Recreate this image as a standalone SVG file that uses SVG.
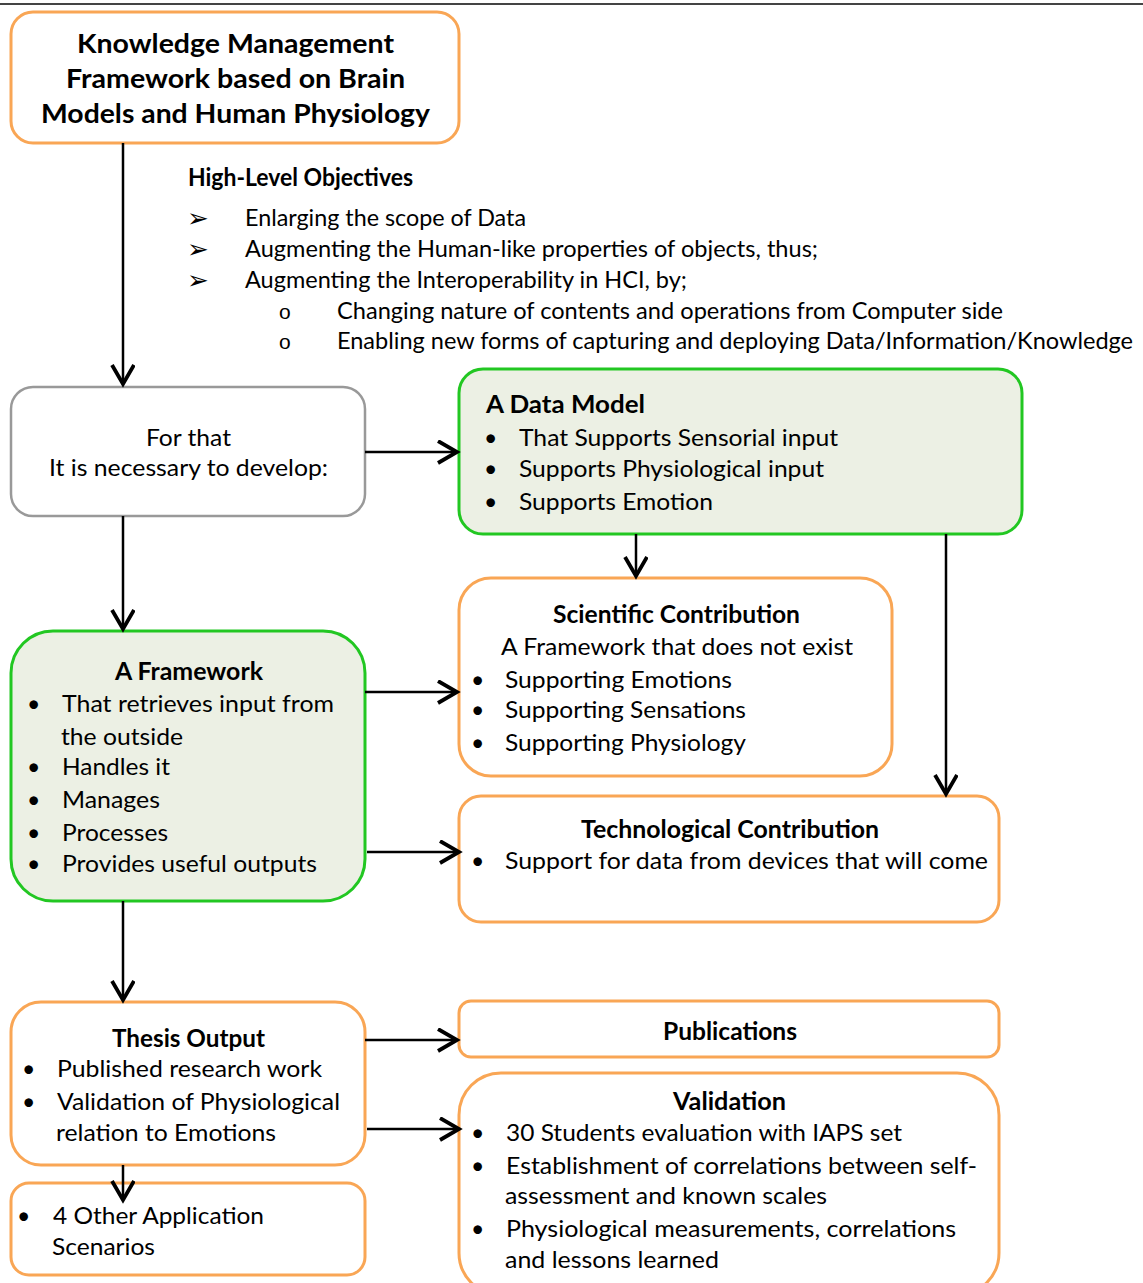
<svg xmlns="http://www.w3.org/2000/svg" width="1143" height="1283" viewBox="0 0 1143 1283">
<defs>
<style>
text{font-family:Lato,"Open Sans","Liberation Sans",sans-serif;fill:#000;font-size:23px}
.b{font-weight:bold;font-size:24px}
.t{font-size:27px;font-weight:bold}
.ar{font-family:"DejaVu Sans",sans-serif;font-size:26px}
.o{font-family:"Liberation Sans",sans-serif;font-size:21px}
.or{fill:#fff;stroke:#F9A655;stroke-width:3}
.gr{fill:#ECF0E4;stroke:#22C722;stroke-width:3}
.gy{fill:#fff;stroke:#999;stroke-width:2.5}
.ln{stroke:#000;stroke-width:2.5;fill:none;marker-end:url(#ah)}
</style>
<marker id="ah" markerUnits="userSpaceOnUse" markerWidth="30" markerHeight="30" refX="21" refY="12" orient="auto">
<path d="M2,1 L21,12 L2,23" fill="none" stroke="#000" stroke-width="3.8"/>
</marker>
</defs>
<line x1="0" y1="4" x2="1143" y2="4" stroke="#444" stroke-width="2"/>

<g id="title">
<rect class="or" x="11" y="12" width="448" height="131" rx="22" stroke-width="4"/>
<text class="t" x="77" y="53" textLength="317" lengthAdjust="spacingAndGlyphs">Knowledge Management</text>
<text class="t" x="66" y="88" textLength="339" lengthAdjust="spacingAndGlyphs">Framework based on Brain</text>
<text class="t" x="41" y="123" textLength="389" lengthAdjust="spacingAndGlyphs">Models and Human Physiology</text>
</g>

<g id="objectives">
<text class="b" x="188" y="186" font-size="22" textLength="225" lengthAdjust="spacingAndGlyphs">High-Level Objectives</text>
<text class="ar" x="187" y="227">➢</text><text x="245" y="226" textLength="281" lengthAdjust="spacingAndGlyphs">Enlarging the scope of Data</text>
<text class="ar" x="187" y="258">➢</text><text x="245" y="257" textLength="573" lengthAdjust="spacingAndGlyphs">Augmenting the Human-like properties of objects, thus;</text>
<text class="ar" x="187" y="289">➢</text><text x="245" y="288" textLength="442" lengthAdjust="spacingAndGlyphs">Augmenting the Interoperability in HCI, by;</text>
<text class="o" x="279" y="319">o</text><text x="337" y="319" textLength="666" lengthAdjust="spacingAndGlyphs">Changing nature of contents and operations from Computer side</text>
<text class="o" x="279" y="349">o</text><text x="337" y="349" textLength="796" lengthAdjust="spacingAndGlyphs">Enabling new forms of capturing and deploying Data/Information/Knowledge</text>
</g>

<g id="forthat">
<rect class="gy" x="11" y="387" width="354" height="129" rx="22"/>
<text x="146" y="446" textLength="85" lengthAdjust="spacingAndGlyphs">For that</text>
<text x="49" y="476" textLength="279" lengthAdjust="spacingAndGlyphs">It is necessary to develop:</text>
</g>

<g id="datamodel">
<rect class="gr" x="459" y="369" width="563" height="165" rx="24"/>
<text class="b" x="486" y="413" textLength="159" lengthAdjust="spacingAndGlyphs">A Data Model</text>
<text x="484" y="446">•</text><text x="519" y="446" textLength="319" lengthAdjust="spacingAndGlyphs">That Supports Sensorial input</text>
<text x="484" y="477">•</text><text x="519" y="477" textLength="305" lengthAdjust="spacingAndGlyphs">Supports Physiological input</text>
<text x="484" y="510">•</text><text x="519" y="510" textLength="194" lengthAdjust="spacingAndGlyphs">Supports Emotion</text>
</g>

<g id="scientific">
<rect class="or" x="459" y="578" width="433" height="198" rx="32"/>
<text class="b" x="553" y="623" textLength="247" lengthAdjust="spacingAndGlyphs">Scientific Contribution</text>
<text x="501" y="655" textLength="352" lengthAdjust="spacingAndGlyphs">A Framework that does not exist</text>
<text x="471" y="688">•</text><text x="505" y="688" textLength="227" lengthAdjust="spacingAndGlyphs">Supporting Emotions</text>
<text x="471" y="718">•</text><text x="505" y="718" textLength="241" lengthAdjust="spacingAndGlyphs">Supporting Sensations</text>
<text x="471" y="751">•</text><text x="505" y="751" textLength="241" lengthAdjust="spacingAndGlyphs">Supporting Physiology</text>
</g>

<g id="framework">
<rect class="gr" x="11" y="631" width="354" height="270" rx="42"/>
<text class="b" x="115" y="680" textLength="148" lengthAdjust="spacingAndGlyphs">A Framework</text>
<text x="27" y="712">•</text><text x="62" y="712" textLength="272" lengthAdjust="spacingAndGlyphs">That retrieves input from</text>
<text x="61" y="745" textLength="122" lengthAdjust="spacingAndGlyphs">the outside</text>
<text x="27" y="775">•</text><text x="62" y="775" textLength="108" lengthAdjust="spacingAndGlyphs">Handles it</text>
<text x="27" y="808">•</text><text x="62" y="808" textLength="98" lengthAdjust="spacingAndGlyphs">Manages</text>
<text x="27" y="841">•</text><text x="62" y="841" textLength="106" lengthAdjust="spacingAndGlyphs">Processes</text>
<text x="27" y="872">•</text><text x="62" y="872" textLength="255" lengthAdjust="spacingAndGlyphs">Provides useful outputs</text>
</g>

<g id="technological">
<rect class="or" x="459" y="796" width="540" height="126" rx="22"/>
<text class="b" x="581" y="838" textLength="298" lengthAdjust="spacingAndGlyphs">Technological Contribution</text>
<text x="471" y="869">•</text><text x="505" y="869" textLength="483" lengthAdjust="spacingAndGlyphs">Support for data from devices that will come</text>
</g>

<g id="thesis">
<rect class="or" x="11" y="1002" width="354" height="163" rx="30"/>
<text class="b" x="112" y="1047" textLength="153" lengthAdjust="spacingAndGlyphs">Thesis Output</text>
<text x="22" y="1077">•</text><text x="57" y="1077" textLength="265" lengthAdjust="spacingAndGlyphs">Published research work</text>
<text x="22" y="1110">•</text><text x="57" y="1110" textLength="283" lengthAdjust="spacingAndGlyphs">Validation of Physiological</text>
<text x="56" y="1141" textLength="220" lengthAdjust="spacingAndGlyphs">relation to Emotions</text>
</g>

<g id="other">
<rect class="or" x="11" y="1183" width="354" height="92" rx="18"/>
<text x="17" y="1224">•</text><text x="53" y="1224" textLength="211" lengthAdjust="spacingAndGlyphs">4 Other Application</text>
<text x="52" y="1255" textLength="103" lengthAdjust="spacingAndGlyphs">Scenarios</text>
</g>

<g id="publications">
<rect class="or" x="459" y="1001" width="540" height="56" rx="12"/>
<text class="b" x="663" y="1040" textLength="134" lengthAdjust="spacingAndGlyphs">Publications</text>
</g>

<g id="validation">
<rect class="or" x="459" y="1073" width="540" height="222" rx="42"/>
<text class="b" x="673" y="1110" textLength="113" lengthAdjust="spacingAndGlyphs">Validation</text>
<text x="471" y="1141">•</text><text x="506" y="1141" textLength="396" lengthAdjust="spacingAndGlyphs">30 Students evaluation with IAPS set</text>
<text x="471" y="1174">•</text><text x="506" y="1174" textLength="471" lengthAdjust="spacingAndGlyphs">Establishment of correlations between self-</text>
<text x="505" y="1204" textLength="322" lengthAdjust="spacingAndGlyphs">assessment and known scales</text>
<text x="471" y="1237">•</text><text x="506" y="1237" textLength="450" lengthAdjust="spacingAndGlyphs">Physiological measurements, correlations</text>
<text x="505" y="1268" textLength="214" lengthAdjust="spacingAndGlyphs">and lessons learned</text>
</g>

<g id="connectors">
<path class="ln" d="M123,143 V384"/>
<path class="ln" d="M365,452 H457"/>
<path class="ln" d="M123,516 V629"/>
<path class="ln" d="M636,534 V576"/>
<path class="ln" d="M946,534 V794"/>
<path class="ln" d="M365,692 H457"/>
<path class="ln" d="M367,852 H459"/>
<path class="ln" d="M123,901 V1000"/>
<path class="ln" d="M365,1040 H457"/>
<path class="ln" d="M367,1129 H459"/>
<path class="ln" d="M123,1165 V1200"/>
</g>
</svg>
